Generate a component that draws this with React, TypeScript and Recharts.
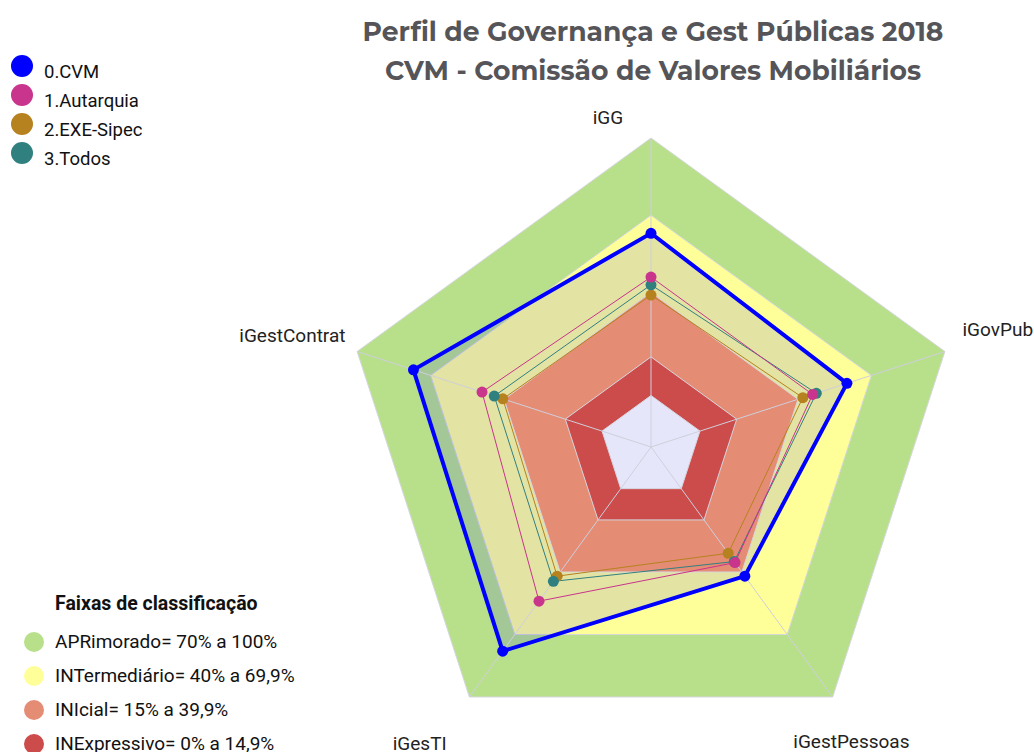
import React from 'react'
import { RadarChart, Radar, PolarGrid, PolarAngleAxis, PolarRadiusAxis } from 'recharts'

// eixos do radar (sentido horário a partir do topo)
const eixos = ['iGG', 'iGovPub', 'iGestPessoas', 'iGesTI', 'iGestContrat']

// séries
const cvm = [0.63, 0.6, 0.42, 0.78, 0.77]
const autarquia = [0.46, 0.46, 0.355, 0.54, 0.49]
const exeSipec = [0.39, 0.42, 0.31, 0.42, 0.405]
const todos = [0.43, 0.475, 0.35, 0.445, 0.44]

// limites das faixas de classificação
const limiteAprimorado = 1
const limiteIntermediario = 0.7
const limiteInicial = 0.4
const limiteExpressivo = 0.15
const limiteZero = 0

const dominio = [-0.2, 1]

const data = eixos.map((eixo, i) => ({
  eixo,
  cvm: cvm[i],
  autarquia: autarquia[i],
  exeSipec: exeSipec[i],
  todos: todos[i],
  apr: limiteAprimorado,
  int: limiteIntermediario,
  ini: limiteInicial,
  inex: limiteExpressivo,
  zero: limiteZero,
}))

const FONTE = 'Roboto, "Noto Sans", sans-serif'

const COR = {
  cvm: '#0000ff',
  autarquia: '#c9348d',
  exeSipec: '#b5821f',
  todos: '#318080',
  apr: '#b8e08b',
  int: '#ffff99',
  ini: '#e58c74',
  inex: '#cc4b4b',
  zero: '#e6e6fa',
}

// deslocamento dos rótulos dos eixos
const ajusteRotulo: Record<string, [number, number, 'start' | 'middle' | 'end']> = {
  iGG: [-43, -6, 'middle'],
  iGovPub: [10, -13, 'start'],
  iGestPessoas: [-44, 45, 'start'],
  iGesTI: [-18, 47, 'end'],
  iGestContrat: [-4, -7, 'end'],
}

function Rotulo(props: any) {
  const { x, y, payload } = props
  const [dx, dy, anchor] = ajusteRotulo[payload.value] || [0, 0, 'middle']
  return (
    <text x={x + dx} y={y + dy} textAnchor={anchor} fontFamily={FONTE} fontSize={19} fill="#222">
      {payload.value}
    </text>
  )
}

const geo = { width: 1034, height: 752, cx: 651, cy: 447, outerRadius: 309, margin: { top: 0, right: 0, bottom: 0, left: 0 } }

const legendaSeries = [
  { nome: '0.CVM', cor: COR.cvm },
  { nome: '1.Autarquia', cor: COR.autarquia },
  { nome: '2.EXE-Sipec', cor: COR.exeSipec },
  { nome: '3.Todos', cor: COR.todos },
]

const legendaFaixas = [
  { nome: 'APRimorado= 70% a 100%', cor: COR.apr },
  { nome: 'INTermediário= 40% a 69,9%', cor: COR.int },
  { nome: 'INIcial= 15% a 39,9%', cor: COR.ini },
  { nome: 'INExpressivo= 0% a 14,9%', cor: COR.inex },
]

export default function App() {
  const faixa = (key: string, fill: string) => (
    <Radar dataKey={key} stroke="#d6d6de" strokeWidth={1} fill={fill} fillOpacity={1} dot={false} isAnimationActive={false} />
  )
  return (
    <div style={{ position: 'absolute', left: 0, top: 0, width: 1034, height: 752, background: '#fff', overflow: 'hidden' }}>
      {/* faixas ao fundo */}
      <div style={{ position: 'absolute', left: 0, top: 0 }}>
        <RadarChart data={data} {...geo}>
          <PolarRadiusAxis domain={dominio} tick={false} axisLine={false} />
          <PolarAngleAxis dataKey="eixo" tick={false} axisLine={false} />
          {faixa('apr', COR.apr)}
          {faixa('int', COR.int)}
          <Radar dataKey="cvm" stroke="none" fill={COR.cvm} fillOpacity={0.11} dot={false} isAnimationActive={false} />
          {faixa('ini', COR.ini)}
          {faixa('inex', COR.inex)}
          {faixa('zero', COR.zero)}
        </RadarChart>
      </div>
      {/* grade e séries por cima */}
      <div style={{ position: 'absolute', left: 0, top: 0 }}>
        <RadarChart data={data} {...geo}>
          <PolarGrid gridType="polygon" polarRadius={[]} stroke="#cfcfdc" strokeWidth={1} />
          <PolarRadiusAxis domain={dominio} tick={false} axisLine={false} />
          <PolarAngleAxis dataKey="eixo" tick={<Rotulo />} axisLine={false} tickLine={false} />
          <Radar dataKey="exeSipec" stroke={COR.exeSipec} strokeWidth={1} fill="none" dot={{ r: 5.5, fill: COR.exeSipec, stroke: 'none' }} isAnimationActive={false} />
          <Radar dataKey="todos" stroke={COR.todos} strokeWidth={1} fill="none" dot={{ r: 5.5, fill: COR.todos, stroke: 'none' }} isAnimationActive={false} />
          <Radar dataKey="autarquia" stroke={COR.autarquia} strokeWidth={1} fill="none" dot={{ r: 5.5, fill: COR.autarquia, stroke: 'none' }} isAnimationActive={false} />
          <Radar dataKey="cvm" stroke={COR.cvm} strokeWidth={4} fill="none" dot={{ r: 5.5, fill: COR.cvm, stroke: 'none' }} isAnimationActive={false} />
        </RadarChart>
      </div>

      {/* título */}
      <div style={{ position: 'absolute', left: 0, width: 1306, top: 12, textAlign: 'center', fontFamily: 'Montserrat, "Open Sans", sans-serif', fontWeight: 700, fontSize: 26.6, lineHeight: '39px', color: '#555559' }}>
        <div>Perfil de Governança e Gest Públicas 2018</div>
        <div>CVM - Comissão de Valores Mobiliários</div>
      </div>

      {/* legenda das séries */}
      {legendaSeries.map((l, i) => (
        <div key={l.nome} style={{ position: 'absolute', left: 11, top: 55 + i * 29, height: 30, display: 'flex', alignItems: 'flex-start' }}>
          <div style={{ width: 22, height: 22, borderRadius: 11, background: l.cor }} />
          <div style={{ marginLeft: 11, marginTop: 7, fontFamily: FONTE, fontSize: 18.5, lineHeight: '20px', color: '#111' }}>{l.nome}</div>
        </div>
      ))}

      {/* legenda das faixas */}
      <div style={{ position: 'absolute', left: 55, top: 593, fontFamily: FONTE, fontSize: 19.5, fontWeight: 700, lineHeight: '22px', color: '#111' }}>
        Faixas de classificação
      </div>
      {legendaFaixas.map((l, i) => (
        <div key={l.nome} style={{ position: 'absolute', left: 24, top: 631 + i * 34, height: 22, display: 'flex', alignItems: 'center' }}>
          <div style={{ width: 20, height: 20, borderRadius: 10, background: l.cor }} />
          <div style={{ marginLeft: 11, fontFamily: FONTE, fontSize: 19, lineHeight: '22px', color: '#111' }}>{l.nome}</div>
        </div>
      ))}
    </div>
  )
}
